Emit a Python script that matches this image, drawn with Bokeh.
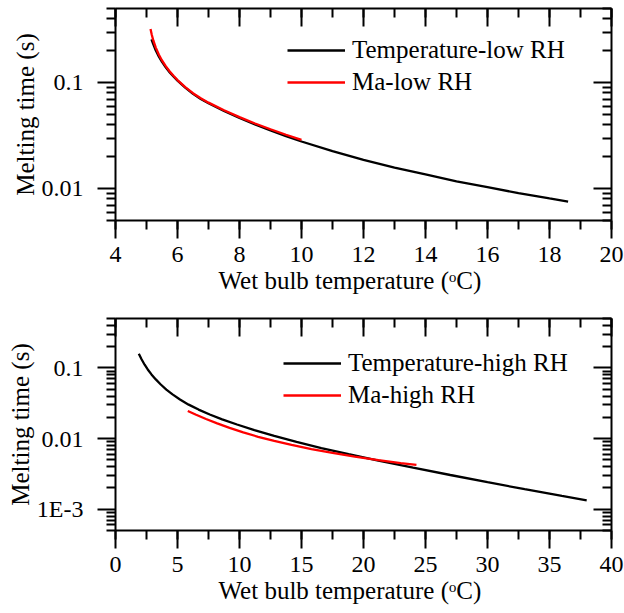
from bokeh.plotting import figure
from bokeh.models import (LinearAxis, LogAxis, FixedTicker, SingleIntervalTicker,
                          Range1d, Legend, LegendItem, Title)
from bokeh.layouts import column
from bokeh.embed import file_html
from bokeh.resources import INLINE

FONT = "'Liberation Serif', 'Times New Roman', serif"

# ---------------- data: low RH (top panel) ----------------
low_temp_x = [5.16, 5.22, 5.30, 5.40, 5.50, 5.62, 5.75, 5.87, 6.00, 6.25, 6.50, 6.75, 7.00,
              7.50, 8.00, 8.50, 9.00, 9.50, 10.0, 11.0, 12.0, 13.0, 14.0, 15.0, 16.0,
              17.0, 18.0, 18.6]
low_temp_y = [0.2553, 0.2291, 0.2009, 0.1758, 0.1567, 0.1393, 0.1247, 0.1140, 0.1045,
              0.0895, 0.0783, 0.0701, 0.0638, 0.0540, 0.0463, 0.0402, 0.0353, 0.0312,
              0.0278, 0.0226, 0.0187, 0.0158, 0.0136, 0.0117, 0.0103, 0.00906, 0.00807,
              0.00755]

low_ma_x = [5.13, 5.17, 5.22, 5.30, 5.40, 5.50, 5.62, 5.75, 5.87, 6.00, 6.25, 6.50, 6.75,
            7.00, 7.50, 8.00, 8.50, 9.00, 9.50, 10.0]
low_ma_y = [0.320, 0.283, 0.2495, 0.2138, 0.1832, 0.1618, 0.1429, 0.1274, 0.1159, 0.1057,
            0.0906, 0.0794, 0.0711, 0.0647, 0.0548, 0.0472, 0.0411, 0.0363, 0.0322, 0.0288]

# ---------------- data: high RH (bottom panel) ----------------
high_temp_x = [1.88, 2.10, 2.35, 2.60, 2.90, 3.25, 3.65, 4.10, 4.60, 5.20, 5.90, 6.70, 7.60,
               8.60, 9.80, 11.2, 12.8, 14.6, 16.6, 18.8, 21.2, 24.0, 27.0, 30.0, 33.0,
               36.0, 38.0]
high_temp_y = [0.1589, 0.1324, 0.1109, 0.0951, 0.0809, 0.0687, 0.0582, 0.0494, 0.0422,
               0.0357, 0.0302, 0.0257, 0.0219, 0.0187, 0.0158, 0.0132, 0.0109, 0.00895,
               0.00735, 0.00600, 0.00486, 0.00387, 0.00305, 0.00241, 0.00192, 0.00154,
               0.00133]

high_ma_x = [5.83, 6.5, 7.3, 8.2, 9.2, 10.3, 11.5, 12.8, 14.2, 15.8, 17.5, 19.3, 21.2,
             23.0, 24.27]
high_ma_y = [0.0245, 0.0217, 0.0189, 0.0164, 0.0142, 0.0122, 0.0106, 0.00925, 0.00811,
             0.00711, 0.00627, 0.00556, 0.00495, 0.00450, 0.00423]

# ---------------- axes / ticks ----------------
top_x_range = (4, 20)
top_y_range = (0.005, 0.5)
top_y_major = [0.01, 0.1]
top_y_labels = ["0.01", "0.1"]
top_y_minor = [0.005, 0.006, 0.007, 0.008, 0.009,
               0.02, 0.03, 0.04, 0.05, 0.06, 0.07, 0.08, 0.09,
               0.2, 0.3, 0.4, 0.5]

bot_x_range = (0, 40)
bot_y_range = (0.0005, 0.5)
bot_y_major = [0.001, 0.01, 0.1]
bot_y_labels = ["1E-3", "0.01", "0.1"]
bot_y_minor = [0.0005, 0.0006, 0.0007, 0.0008, 0.0009,
               0.002, 0.003, 0.004, 0.005, 0.006, 0.007, 0.008, 0.009,
               0.02, 0.03, 0.04, 0.05, 0.06, 0.07, 0.08, 0.09,
               0.2, 0.3, 0.4, 0.5]

x_label = "Wet bulb temperature (\u1d52C)"
y_label = "Melting time (s)"


def make_panel(height, border_top, border_bottom, xr, yr, x_interval,
               y_major, y_labels, y_minor, series, legend_loc):
    p = figure(width=624, height=height, y_axis_type="log",
               x_range=Range1d(*xr), y_range=Range1d(*yr),
               output_backend="svg", toolbar_location=None,
               min_border_left=115, min_border_right=13,
               min_border_top=border_top, min_border_bottom=border_bottom)
    p.xgrid.visible = False
    p.ygrid.visible = False
    p.outline_line_color = None
    p.background_fill_color = "white"
    p.border_fill_color = "white"

    xt = SingleIntervalTicker(interval=x_interval, num_minor_ticks=2)
    yt = FixedTicker(ticks=y_major, minor_ticks=y_minor)
    overrides = {v: s for v, s in zip(y_major, y_labels)}

    xa = p.xaxis[0]
    xa.ticker = xt
    ya = p.yaxis[0]
    ya.ticker = yt
    ya.major_label_overrides = overrides

    for ax in (xa, ya):
        ax.axis_line_width = 2
        ax.axis_line_color = "black"
        ax.major_tick_line_width = 2
        ax.minor_tick_line_width = 2
        ax.major_tick_line_color = "black"
        ax.minor_tick_line_color = "black"
        ax.major_tick_out = 18
        ax.major_tick_in = 0
        ax.minor_tick_out = 9
        ax.minor_tick_in = 0
        ax.major_label_text_font = FONT
        ax.major_label_text_font_size = "24px"
        ax.major_label_text_color = "black"
    xa.major_label_standoff = 8
    ya.major_label_standoff = 14

    top = LinearAxis(ticker=xt)
    right = LogAxis(ticker=yt)
    for ax in (top, right):
        ax.axis_line_width = 2
        ax.axis_line_color = "black"
        ax.major_tick_line_width = 2
        ax.minor_tick_line_width = 2
        ax.major_tick_in = 18
        ax.major_tick_out = 0
        ax.minor_tick_in = 9
        ax.minor_tick_out = 0
        ax.major_label_text_font_size = "0px"
        ax.major_label_text_color = None
        ax.major_label_standoff = 0
    p.add_layout(top, "above")
    p.add_layout(right, "right")

    # axis titles
    p.add_layout(Title(text=x_label, align="left", offset=103, standoff=0,
                       text_font=FONT, text_font_size="25px",
                       text_font_style="normal", text_color="black"), "below")
    p.add_layout(Title(text=y_label, align="center", standoff=0,
                       text_font=FONT, text_font_size="25px",
                       text_font_style="normal", text_color="black"), "left")

    items = []
    for (xs, ys, color, name) in series:
        r = p.line(xs, ys, line_color=color, line_width=2.3)
        items.append(LegendItem(label=name, renderers=[r]))
    leg = Legend(items=items, location=legend_loc,
                 border_line_color=None, background_fill_alpha=0,
                 padding=0, margin=0, spacing=4,
                 glyph_width=58, glyph_height=28, label_height=28,
                 label_standoff=7,
                 label_text_font=FONT, label_text_font_size="25px",
                 label_text_color="black")
    p.add_layout(leg, "center")
    return p


p1 = make_panel(306, 8, 86, top_x_range, top_y_range, 2,
                top_y_major, top_y_labels, top_y_minor,
                [(low_temp_x, low_temp_y, "black", "Temperature-low RH"),
                 (low_ma_x, low_ma_y, "#ff0000", "Ma-low RH")],
                (172, 124))
p2 = make_panel(307, 12, 83, bot_x_range, bot_y_range, 5,
                bot_y_major, bot_y_labels, bot_y_minor,
                [(high_temp_x, high_temp_y, "black", "Temperature-high RH"),
                 (high_ma_x, high_ma_y, "#ff0000", "Ma-high RH")],
                (168, 121))

layout = column(p1, p2, spacing=0)
open("out.html", "w").write(file_html(layout, INLINE))
